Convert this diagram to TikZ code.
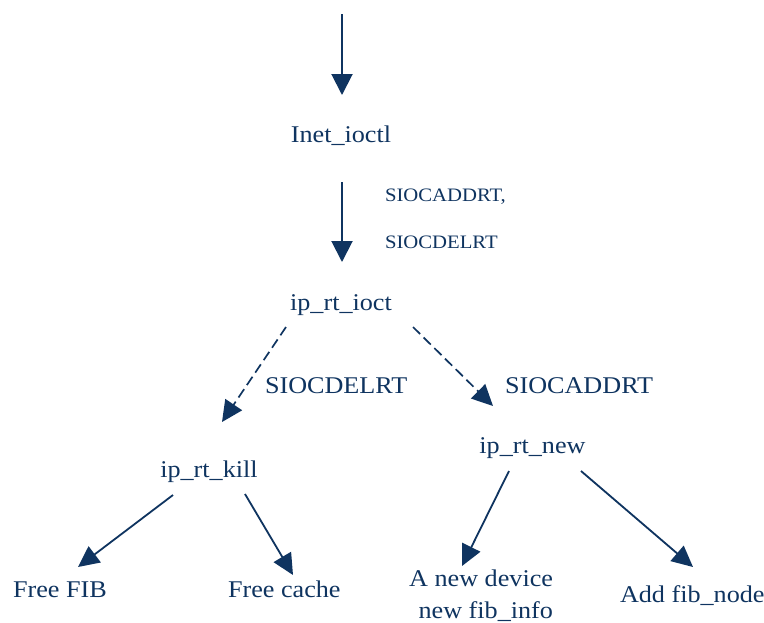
\documentclass[tikz,border=0pt]{standalone}
\usepackage{fontspec}
\setmainfont{Liberation Serif}[FakeStretch=1.09]
\usetikzlibrary{arrows.meta,calc}
\definecolor{navy}{HTML}{0F3460}
\begin{document}
\begin{tikzpicture}[x=1pt,y=-1pt,
  every node/.style={inner sep=0pt,outer sep=0pt,text=navy},
  fn/.style={font=\fontsize{24}{32}\selectfont},
  cmd/.style={font=\fontsize{19}{24}\selectfont},
  call/.style={draw=navy,line width=2pt,-{Triangle[length=21pt,width=21pt]}},
  branch/.style={draw=navy,line width=1.8pt,-{Triangle[length=21pt,width=20pt]}},
  maybe/.style={draw=navy,line width=1.7pt,dash pattern=on 10pt off 5pt,
                -{Triangle[length=21pt,width=20pt]}}]
\useasboundingbox[fill=white] (0,0) rectangle (764,622);

% call chain
\node[fn,anchor=base] (inet) at (341,142) {Inet\_ioctl};
\node[fn,anchor=base] (ioct) at (341,310) {ip\_rt\_ioct};
\node[cmd,anchor=base west] (cmdadd) at (385,201) {SIOCADDRT,};
\node[cmd,anchor=base west] (cmddel) at (385,248) {SIOCDELRT};

% branches of ip_rt_ioct
\node[fn,anchor=base west] (lbldel) at (265,393) {SIOCDELRT};
\node[fn,anchor=base west] (lbladd) at (505,393) {SIOCADDRT};
\node[fn,anchor=base] (kill) at (209,477) {ip\_rt\_kill};
\node[fn,anchor=base] (new) at (532.5,453) {ip\_rt\_new};

% leaves (the two-line node sits on the baseline of its last line)
\node[fn,anchor=base west] (fib) at (13,597) {Free FIB};
\node[fn,anchor=base west] (cache) at (228,597) {Free cache};
\node[fn,anchor=base east,align=right] (dev) at (553,618) {A new device\\new fib\_info};
\node[fn,anchor=base west] (addnode) at (620,602) {Add fib\_node};

% connectors
\coordinate (entry) at (342,14);
\draw[call] (entry) -- ($(inet.base)+(1,-47)$);
\draw[call] ($(inet.base)+(1,40)$) -- ($(ioct.base)+(1,-48)$);
\draw[maybe] ($(ioct.base)+(-55,17)$) -- ($(kill.base)+(13,-55)$);
\draw[maybe] ($(ioct.base)+(72,17)$) -- ($(new.base)+(-39.5,-47)$);
\draw[branch] ($(kill.base)+(-36,18)$) -- ($(fib.base west)+(65,-30)$);
\draw[branch] ($(kill.base)+(36,17)$) -- ($(cache.base west)+(65,-22)$);
\draw[branch] ($(new.base)+(-23.5,18)$) -- ($(dev.base east)+(-91,-52)$);
\draw[branch] ($(new.base)+(48.5,18)$) -- ($(addnode.base west)+(73,-35)$);
\end{tikzpicture}
\end{document}
